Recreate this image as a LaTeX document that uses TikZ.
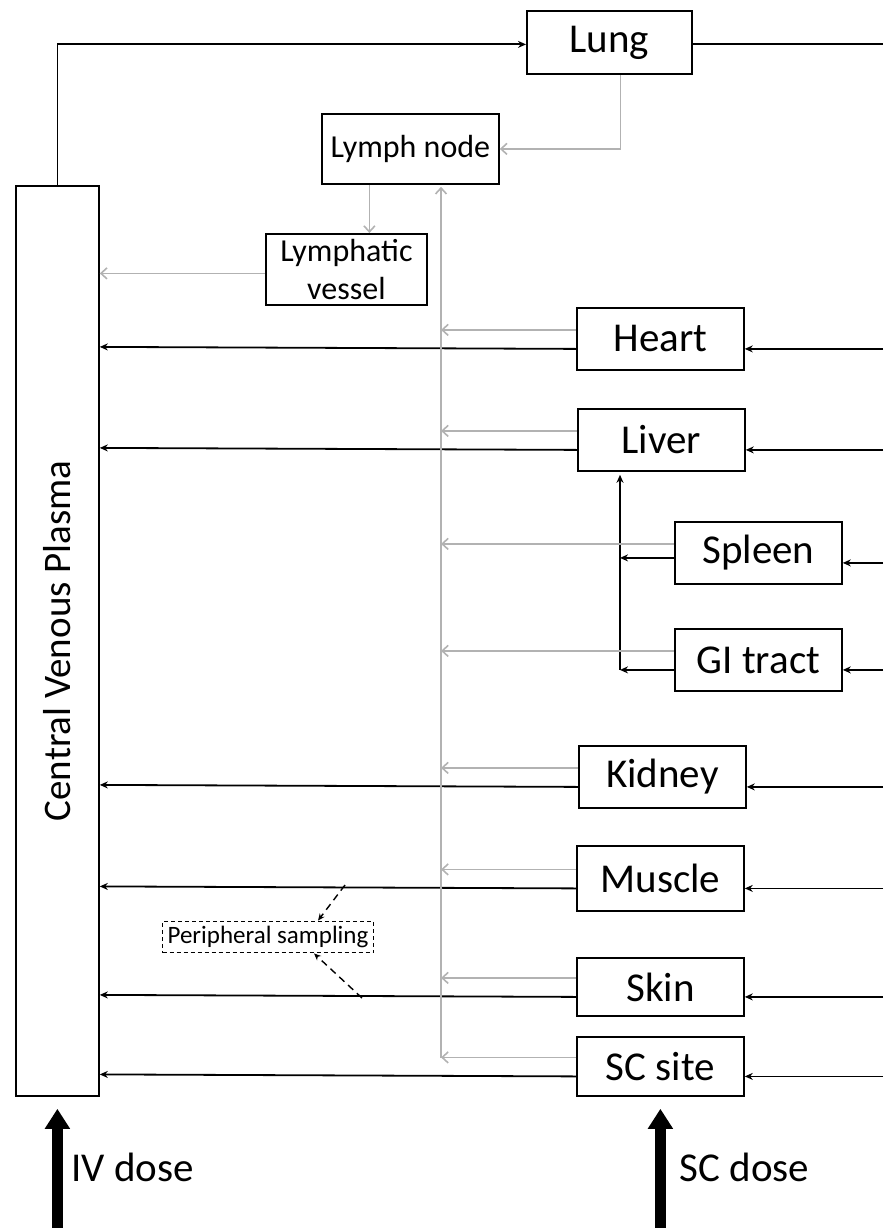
\documentclass[tikz,border=0pt]{standalone}
\usepackage{fontspec}
\setmainfont{Carlito}
\usetikzlibrary{positioning,arrows.meta,calc}
\definecolor{ink}{HTML}{000000}
\definecolor{lymph}{HTML}{B2B2B2}
\tikzset{
  organ/.style={draw=ink, line width=1.8pt, minimum width=167pt, minimum height=62pt,
    inner sep=0pt, anchor=north west, font=\fontsize{41pt}{44pt}\selectfont},
  lbox/.style={draw=ink, line width=1.8pt, inner sep=0pt, anchor=north west,
    align=center, font=\fontsize{32pt}{38pt}\selectfont},
  flow/.style={-{Stealth[length=8pt,width=7pt]}, line width=1.8pt, draw=ink},
  plain/.style={line width=1.8pt, draw=ink},
  lflow/.style={-{Straight Barb[length=6pt,width=11pt]}, line width=1.6pt, draw=lymph},
  samp/.style={-{Stealth[length=7pt,width=6pt]}, line width=1.4pt, dash pattern=on 7pt off 5pt},
  dose/.style={-{Triangle[length=20pt,width=24pt]}, line width=11pt, draw=ink},
  doselab/.style={anchor=west, font=\fontsize{41pt}{44pt}\selectfont},
}
\begin{document}
\begin{tikzpicture}[x=1pt, y=-1pt]
    \useasboundingbox (0,0) rectangle (883,1228);
    \coordinate (rim) at (883,0);
    \coordinate (lbus) at (441,1058);
    \coordinate (pbus) at (620,0);
    \node[lbox, minimum width=83pt, minimum height=910pt] (cvp) at (15,185) {};
    \node[rotate=90, font=\fontsize{39pt}{42pt}\selectfont] at (cvp.center) {Central Venous Plasma};
    \node[organ, minimum width=165pt, minimum height=63pt] (lung) at (526,10) {Lung};
    \node[lbox, minimum width=177pt, minimum height=70pt] (lymphnode) at (321,113) {Lymph node};
    \node[lbox, minimum width=161pt, minimum height=71pt] (vessel) at (265,233) {Lymphatic\\vessel};
    \node[organ] (heart) at (576,307) {Heart};
    \node[organ] (liver) at (577,408) {Liver};
    \node[organ] (spleen) at (674,521) {Spleen};
    \node[organ] (gitract) at (674,628) {GI tract};
    \node[organ] (kidney) at (578,745) {Kidney};
    \node[organ, minimum height=65pt] (muscle) at (576,845) {Muscle};
    \node[organ, minimum height=58pt] (skin) at (576,957) {Skin};
    \node[organ, minimum height=59pt] (scsite) at (576,1036) {SC site};
    \node[draw=ink, line width=1.2pt, dash pattern=on 4pt off 3pt, inner sep=5pt,
      font=\fontsize{25pt}{28pt}\selectfont] (sampling) at (268,937) {Peripheral sampling};

    % blood
    \draw[flow] (cvp.north) |- ([yshift=-2pt]lung.west);
    \draw[plain] ([yshift=-2pt]lung.east) -- ([yshift=-2pt]rim |- lung.east);
    \foreach \o in {heart,liver,spleen,gitract,kidney,muscle,skin,scsite}{
      \draw[flow] ([yshift=-10pt]rim |- \o.east) -- ([yshift=-10pt]\o.east);
    }
    \foreach \o in {heart,liver,kidney,muscle,skin,scsite}{
      \draw[flow] ([yshift=-10pt]\o.west) -- ([yshift=-8pt]cvp.east |- \o.west);
    }
    \draw[flow] ([yshift=-5pt]spleen.west) -- ([yshift=-5pt]pbus |- spleen.west);
    \draw[flow] ([yshift=-10pt]gitract.west) -- ([yshift=-10pt]pbus |- gitract.west);
    \draw[flow] ([yshift=-10pt]pbus |- gitract.west) -- ([yshift=-3pt]pbus |- liver.south);

    % lymph
    \draw[lflow] ([xshift=11pt]lung.south) |- (lymphnode.east);
    \draw[lflow] ([xshift=-41pt]lymphnode.south) -- ([xshift=-41pt]lymphnode.south |- vessel.north);
    \draw[lflow] ([yshift=-4pt]vessel.west) -- ([yshift=-4pt]cvp.east |- vessel.west);
    \foreach \o in {heart,liver,spleen,gitract,kidney,muscle,skin,scsite}{
      \draw[lflow] ([yshift=9pt]\o.west) -- ([yshift=9pt]lbus |- \o.west);
    }
    \draw[lflow] (lbus) -- ([yshift=-2pt]lbus |- lymphnode.south);

    % sampling
    \coordinate (mtap) at (345,885);
    \coordinate (stap) at (362,998);
    \draw[samp] (mtap) -- ([xshift=50pt]sampling.north);
    \draw[samp] (stap) -- ([xshift=46pt]sampling.south);

    % doses
    \draw[dose] (cvp.south |- 0,1228) -- ([yshift=-12pt]cvp.south);
    \draw[dose] (scsite.south |- 0,1228) -- ([yshift=-12pt]scsite.south);
    \node[doselab] (ivlab) at (68,1167) {IV dose};
    \node[doselab] (sclab) at (676,1167) {SC dose};
  \end{tikzpicture}
\end{document}
